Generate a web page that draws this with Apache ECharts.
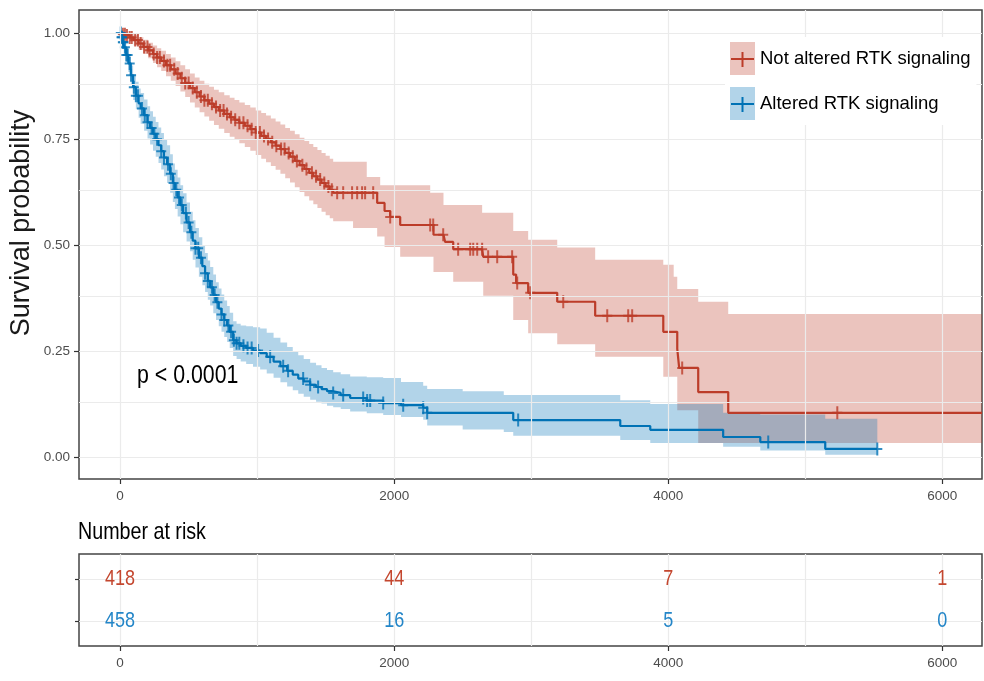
<!DOCTYPE html>
<html><head><meta charset="utf-8">
<script src="https://cdn.jsdelivr.net/npm/echarts@6/dist/echarts.min.js"></script>
<style>html,body{margin:0;padding:0;background:#fff}#c{width:984px;height:681px}</style>
</head><body><div id="c"></div>
<script>
// ---------- data ----------
const xTickValues = [0, 2000, 4000, 6000];
const xGridValues = [0, 1000, 2000, 3000, 4000, 5000, 6000];
const yTickValues = [0, 0.25, 0.5, 0.75, 1];
const yGridValues = [0, 0.125, 0.25, 0.375, 0.5, 0.625, 0.75, 0.875, 1];
const groupNames = ['Not altered RTK signaling', 'Altered RTK signaling'];
const pValueText = 'p < 0.0001';
const riskTitle = 'Number at risk';
const yTitle = 'Survival probability';
const riskTimes = [0, 2000, 4000, 6000];
const riskNotAltered = [418, 44, 7, 1];
const riskAltered = [458, 16, 5, 0];

const notAlteredTime  = [0,20,40,70,100,135,170,205,240,270,300,335,370,405,440,475,510,545,580,615,650,685,720,760,800,835,870,910,950,990,1030,1065,1100,1135,1170,1205,1240,1275,1310,1345,1380,1410,1440,1470,1500,1530,1555,1700,1800,1876,1898,1930,1971,2044,2263,2287,2360,2372,2431,2642,2650,2869,2890,2978,3190,3467,3964,4040,4066,4080,4219,4438,6290];
const notAlteredSurv  = [1,0.997,0.994,0.989,0.983,0.975,0.967,0.959,0.950,0.942,0.934,0.924,0.914,0.904,0.893,0.882,0.870,0.860,0.850,0.841,0.833,0.825,0.817,0.809,0.801,0.795,0.788,0.781,0.773,0.765,0.757,0.750,0.742,0.734,0.726,0.717,0.708,0.698,0.688,0.679,0.670,0.662,0.654,0.646,0.638,0.630,0.623,0.623,0.623,0.599,0.599,0.580,0.566,0.547,0.547,0.524,0.524,0.507,0.490,0.490,0.472,0.430,0.410,0.387,0.366,0.333,0.295,0.295,0.255,0.210,0.153,0.104,0.104];
const notAlteredLower = [1,0.992,0.987,0.979,0.970,0.960,0.950,0.940,0.929,0.919,0.910,0.898,0.887,0.875,0.862,0.849,0.836,0.824,0.813,0.803,0.793,0.783,0.774,0.764,0.755,0.748,0.740,0.731,0.722,0.712,0.703,0.695,0.686,0.677,0.668,0.657,0.647,0.636,0.625,0.615,0.605,0.596,0.587,0.578,0.570,0.563,0.556,0.540,0.540,0.520,0.520,0.495,0.495,0.472,0.472,0.436,0.436,0.436,0.413,0.413,0.380,0.323,0.323,0.292,0.266,0.236,0.189,0.189,0.110,0.110,0.033,0.033,0.033];
const notAlteredUpper = [1,1,1,0.998,0.995,0.990,0.984,0.977,0.970,0.964,0.958,0.950,0.942,0.933,0.924,0.914,0.904,0.895,0.887,0.880,0.873,0.866,0.860,0.853,0.847,0.842,0.836,0.830,0.824,0.817,0.811,0.805,0.798,0.791,0.784,0.776,0.769,0.761,0.753,0.745,0.738,0.731,0.724,0.717,0.710,0.703,0.696,0.696,0.660,0.660,0.641,0.641,0.641,0.641,0.623,0.623,0.594,0.594,0.594,0.576,0.576,0.533,0.533,0.512,0.494,0.465,0.453,0.425,0.396,0.396,0.366,0.337,0.337];
const notAlteredCensor = [20,35,50,70,85,110,130,150,175,200,215,245,270,290,320,345,365,395,420,450,475,500,530,560,590,615,640,670,700,730,755,780,810,840,870,900,930,960,990,1020,1050,1080,1110,1140,1175,1200,1230,1260,1290,1330,1360,1400,1430,1460,1490,1520,1545,1584,1628,1693,1730,1766,1788,1847,1971,2263,2285,2358,2467,2555,2577,2606,2642,2686,2752,2861,2898,2993,3234,3555,3708,3737,4102,5234];

const alteredTime  = [0,10,20,30,45,60,78,95,115,135,150,175,200,219,240,260,280,300,320,343,365,385,400,420,440,460,485,510,530,550,575,600,620,640,657,680,700,720,740,760,781,800,825,850,880,920,970,1022,1070,1120,1170,1219,1260,1300,1340,1387,1430,1470,1510,1555,1610,1679,1800,1920,2050,2212,2241,2500,2800,2869,3650,3869,4401,4672,5146,5526];
const alteredSurv  = [1,0.990,0.978,0.966,0.948,0.928,0.900,0.872,0.852,0.834,0.822,0.806,0.789,0.776,0.762,0.749,0.735,0.721,0.706,0.690,0.668,0.646,0.630,0.612,0.594,0.575,0.553,0.530,0.510,0.492,0.470,0.450,0.433,0.415,0.400,0.382,0.365,0.350,0.336,0.323,0.310,0.295,0.275,0.268,0.262,0.257,0.251,0.245,0.236,0.225,0.214,0.203,0.194,0.185,0.178,0.170,0.165,0.160,0.155,0.151,0.146,0.139,0.133,0.127,0.122,0.116,0.104,0.104,0.104,0.087,0.073,0.064,0.047,0.035,0.019,0.019];
const alteredLower = [1,0.983,0.968,0.953,0.932,0.908,0.877,0.842,0.820,0.800,0.786,0.769,0.751,0.737,0.722,0.708,0.693,0.678,0.662,0.646,0.623,0.601,0.585,0.567,0.549,0.530,0.508,0.485,0.465,0.447,0.425,0.405,0.389,0.371,0.357,0.339,0.323,0.308,0.295,0.283,0.271,0.257,0.238,0.231,0.225,0.219,0.213,0.206,0.197,0.187,0.176,0.166,0.157,0.149,0.142,0.135,0.130,0.126,0.121,0.117,0.113,0.107,0.103,0.099,0.094,0.088,0.074,0.065,0.059,0.050,0.040,0.033,0.024,0.015,0.005,0.005];
const alteredUpper = [1,0.997,0.988,0.979,0.964,0.948,0.923,0.903,0.885,0.869,0.858,0.843,0.827,0.815,0.802,0.790,0.777,0.764,0.750,0.735,0.714,0.692,0.677,0.659,0.641,0.622,0.600,0.578,0.558,0.540,0.518,0.498,0.481,0.463,0.448,0.430,0.412,0.397,0.383,0.369,0.356,0.340,0.320,0.314,0.310,0.308,0.306,0.303,0.293,0.281,0.270,0.259,0.249,0.240,0.231,0.222,0.216,0.210,0.205,0.200,0.195,0.190,0.188,0.186,0.177,0.168,0.160,0.155,0.146,0.146,0.134,0.125,0.104,0.100,0.090,0.090];
const alteredCensor = [5,10,15,20,25,35,45,55,70,80,100,115,130,160,180,200,230,250,270,300,320,350,370,390,410,430,450,480,500,520,550,570,590,620,640,670,690,710,740,760,790,810,830,850,870,900,930,960,1007,1095,1190,1226,1336,1387,1445,1555,1628,1774,1803,1825,1920,2066,2212,2241,2905,4730,5526];

// ---------- styling ----------
const RED = '#BC3C29', BLUE = '#0072B5';
const RED_TXT = '#c4472f', BLUE_TXT = '#2486c8';
const RED_BAND = 'rgba(188,60,41,0.3)', BLUE_BAND = 'rgba(0,114,181,0.3)';
const FONT = '"Liberation Sans",Arial,sans-serif';
const NARROW_SCALE = 0.82;
const CROSS = 'path://M4,0 H6 V5.5 H10 V7.5 H6 V13 H4 V7.5 H0 V5.5 H4 Z';
const X_MIN = -300, X_MAX = 6290;

function survAt(times, surv, t) {
  let v = surv[0];
  for (let i = 0; i < times.length; i++) { if (times[i] <= t) v = surv[i]; else break; }
  return v;
}
function bandSeries(times, lo, hi, color, z) {
  return {
    type: 'custom', xAxisIndex: 0, yAxisIndex: 0, z: z, silent: true, clip: true,
    data: [0],
    renderItem: function (params, api) {
      const pts = [];
      for (let i = 0; i < times.length - 1; i++) {
        pts.push(api.coord([times[i], hi[i]]));
        pts.push(api.coord([times[i + 1], hi[i]]));
      }
      for (let i = times.length - 2; i >= 0; i--) {
        pts.push(api.coord([times[i + 1], lo[i]]));
        pts.push(api.coord([times[i], lo[i]]));
      }
      return { type: 'polygon', shape: { points: pts }, style: { fill: color } };
    }
  };
}
function riskSeries(row, counts, color) {
  return {
    type: 'custom', xAxisIndex: 1, yAxisIndex: 1, z: 5, silent: true,
    data: riskTimes.map((t, i) => [t, row, counts[i]]),
    renderItem: function (params, api) {
      const p = api.coord([api.value(0), api.value(1)]);
      return { type: 'text', x: p[0], y: p[1], scaleX: NARROW_SCALE,
        style: { text: String(api.value(2)), fontFamily: FONT, fontSize: 22, fill: color,
                 align: 'center', verticalAlign: 'middle' } };
    }
  };
}
function gridMarkLine(xs, ys, color) {
  return {
    silent: true, symbol: 'none', label: { show: false }, animation: false,
    lineStyle: { color: color, width: 1.2, type: 'solid' },
    emphasis: { disabled: true },
    data: xs.map(v => ({ xAxis: v })).concat(ys.map(v => ({ yAxis: v })))
  };
}
const axisLabelStyle = { color: '#4d4d4d', fontFamily: FONT, fontSize: 13.5 };
const tickStyle = { color: '#333', width: 1.2 };

const option = {
  animation: false,
  backgroundColor: '#fff',
  grid: [
    { left: 79, top: 10, width: 903, height: 469, show: true, borderColor: '#444', borderWidth: 1.5, backgroundColor: 'transparent' },
    { left: 79, top: 554, width: 903, height: 92, show: true, borderColor: '#444', borderWidth: 1.5, backgroundColor: 'transparent' }
  ],
  xAxis: [
    { type: 'value', gridIndex: 0, min: X_MIN, max: X_MAX,
      axisLine: { show: false, onZero: false }, splitLine: { show: false },
      axisTick: { show: true, length: 5, lineStyle: tickStyle, customValues: xTickValues },
      axisLabel: Object.assign({ margin: 10, customValues: xTickValues, formatter: v => String(v) }, axisLabelStyle) },
    { type: 'value', gridIndex: 1, min: X_MIN, max: X_MAX,
      axisLine: { show: false, onZero: false }, splitLine: { show: false },
      axisTick: { show: true, length: 5, lineStyle: tickStyle, customValues: xTickValues },
      axisLabel: Object.assign({ margin: 10, customValues: xTickValues, formatter: v => String(v) }, axisLabelStyle) }
  ],
  yAxis: [
    { type: 'value', gridIndex: 0, min: -0.052, max: 1.054,
      axisLine: { show: false, onZero: false }, splitLine: { show: false },
      axisTick: { show: true, length: 5, lineStyle: tickStyle, customValues: yTickValues },
      axisLabel: Object.assign({ margin: 9, customValues: yTickValues, formatter: v => v.toFixed(2) }, axisLabelStyle) },
    { type: 'value', gridIndex: 1, min: 0.4, max: 2.6, inverse: true,
      axisLine: { show: false, onZero: false }, splitLine: { show: false },
      axisTick: { show: true, length: 4, lineStyle: tickStyle, customValues: [1, 2] },
      axisLabel: { show: false } }
  ],
  legend: {
    orient: 'vertical', left: 725, top: 37, padding: [5, 6, 5, 5], itemGap: 12, z: 20,
    itemWidth: 25, itemHeight: 33, backgroundColor: '#fff', selectedMode: false,
    textStyle: { fontFamily: FONT, fontSize: 18.5, color: '#000' },
    data: [
      { name: groupNames[0], icon: 'rect', itemStyle: { color: RED_BAND } },
      { name: groupNames[1], icon: 'rect', itemStyle: { color: BLUE_BAND } }
    ]
  },
  graphic: [
    { type: 'text', x: 22, y: 223, rotation: Math.PI / 2, z: 10,
      style: { text: yTitle, fontFamily: FONT, fontSize: 27, fill: '#1a1a1a', align: 'center', verticalAlign: 'middle' } },
    { type: 'text', x: 137, y: 376, z: 10, scaleX: NARROW_SCALE,
      style: { text: pValueText, fontFamily: FONT, fontSize: 26, fill: '#000', align: 'left', verticalAlign: 'middle' } },
    { type: 'text', x: 78, y: 532, z: 10, scaleX: NARROW_SCALE,
      style: { text: riskTitle, fontFamily: FONT, fontSize: 24, fill: '#000', align: 'left', verticalAlign: 'middle' } },
    { type: 'line', z: 200, shape: { x1: 731, y1: 59, x2: 754, y2: 59 }, style: { stroke: RED, lineWidth: 2 } },
    { type: 'line', z: 200, shape: { x1: 742.5, y1: 52, x2: 742.5, y2: 67 }, style: { stroke: RED, lineWidth: 2 } },
    { type: 'line', z: 200, shape: { x1: 731, y1: 104, x2: 754, y2: 104 }, style: { stroke: BLUE, lineWidth: 2 } },
    { type: 'line', z: 200, shape: { x1: 742.5, y1: 97, x2: 742.5, y2: 112 }, style: { stroke: BLUE, lineWidth: 2 } }
  ],
  series: [
    { type: 'line', xAxisIndex: 0, yAxisIndex: 0, data: [], z: 0, silent: true,
      markLine: gridMarkLine(xGridValues, yGridValues, '#ebebeb') },
    bandSeries(notAlteredTime, notAlteredLower, notAlteredUpper, RED_BAND, 1),
    bandSeries(alteredTime, alteredLower, alteredUpper, BLUE_BAND, 1),
    { name: groupNames[0], type: 'line', xAxisIndex: 0, yAxisIndex: 0, step: 'end', z: 3,
      showSymbol: false, symbol: 'none', silent: true, color: RED,
      lineStyle: { color: RED, width: 2.2 },
      data: notAlteredTime.map((t, i) => [t, notAlteredSurv[i]]) },
    { name: groupNames[1], type: 'line', xAxisIndex: 0, yAxisIndex: 0, step: 'end', z: 3,
      showSymbol: false, symbol: 'none', silent: true, color: BLUE,
      lineStyle: { color: BLUE, width: 2.2 },
      data: alteredTime.map((t, i) => [t, alteredSurv[i]]) },
    { type: 'scatter', xAxisIndex: 0, yAxisIndex: 0, z: 4, silent: true,
      symbol: CROSS, symbolSize: [10, 13], itemStyle: { color: RED },
      data: notAlteredCensor.map(t => [t, survAt(notAlteredTime, notAlteredSurv, t)]) },
    { type: 'scatter', xAxisIndex: 0, yAxisIndex: 0, z: 4, silent: true,
      symbol: CROSS, symbolSize: [10, 13], itemStyle: { color: BLUE },
      data: alteredCensor.map(t => [t, survAt(alteredTime, alteredSurv, t)]) },
    // risk table
    { type: 'line', xAxisIndex: 1, yAxisIndex: 1, data: [], z: 0, silent: true,
      markLine: gridMarkLine(xGridValues, [1, 2], '#ebebeb') },
    riskSeries(1, riskNotAltered, RED_TXT),
    riskSeries(2, riskAltered, BLUE_TXT)
  ]
};
const chart = echarts.init(document.getElementById('c'), null, { renderer: 'canvas' });
chart.setOption(option);
</script>
</body></html>
